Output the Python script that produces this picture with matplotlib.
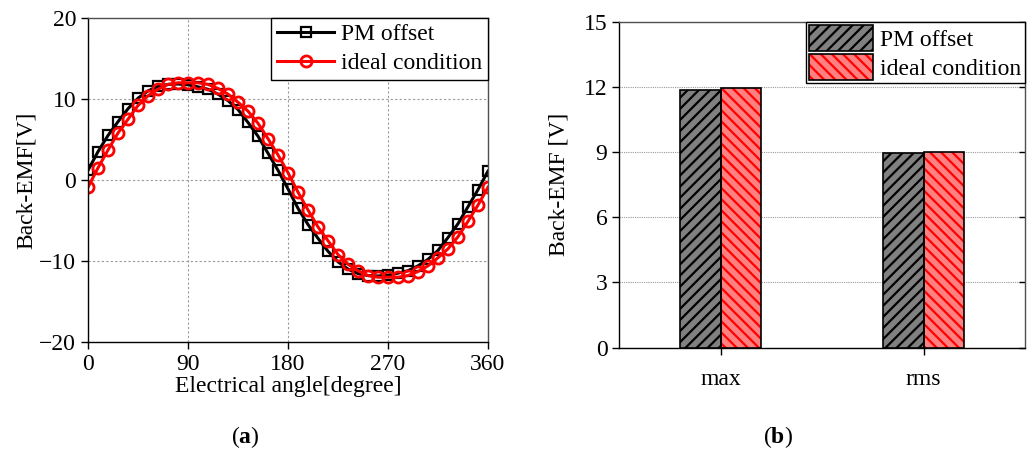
import numpy as np
import matplotlib
matplotlib.use("Agg")
import matplotlib.pyplot as plt
from matplotlib.patches import Patch

plt.rcParams["font.family"] = "Liberation Serif"
plt.rcParams["mathtext.fontset"] = "custom"
plt.rcParams["mathtext.rm"] = "Liberation Serif"
plt.rcParams["mathtext.bf"] = "Liberation Serif:bold"
plt.rcParams["hatch.linewidth"] = 1.6

# (a) back-EMF waveforms, every 9 electrical degrees
angle = list(range(0, 361, 9))
emf_pm_offset = [1.2, 3.5, 5.5, 7.2, 8.8, 10.1, 11.0, 11.55, 11.8, 11.85,
                 11.75, 11.5, 11.2, 10.6, 9.8, 8.7, 7.1, 5.4, 3.3, 1.2,
                 -1.1, -3.5, -5.5, -7.2, -8.8, -10.1, -11.0, -11.55, -11.8, -11.85,
                 -11.75, -11.5, -11.2, -10.6, -9.8, -8.7, -7.1, -5.4, -3.3, -1.2,
                 1.1]
emf_ideal = [-0.9, 1.5, 3.7, 5.8, 7.5, 9.2, 10.4, 11.2, 11.8, 12.0,
             12.0, 12.0, 11.8, 11.3, 10.6, 9.6, 8.5, 7.0, 5.1, 3.1,
             0.9, -1.5, -3.7, -5.8, -7.5, -9.2, -10.4, -11.2, -11.8, -12.0,
             -12.0, -12.0, -11.8, -11.3, -10.6, -9.6, -8.5, -7.0, -5.1, -3.1,
             -0.9]

# (b) max / rms values
stats = ["max", "rms"]
bar_pm_offset = [11.88, 8.94]
bar_ideal = [11.95, 9.01]

FS = 17
edge_gray = "#505050"


def style_axes(ax):
    for side in ["top", "right"]:
        ax.spines[side].set_color(edge_gray)
    for side in ["left", "bottom"]:
        ax.spines[side].set_color("black")
    for sp in ax.spines.values():
        sp.set_linewidth(1.0)
    ax.tick_params(labelsize=FS, direction="out", length=5, width=1)


fig = plt.figure(figsize=(10.33, 4.59), dpi=100)

# ---- panel (a)
ax1 = fig.add_axes([0.0852, 0.2549, 0.3872, 0.7059])
ax1.plot(angle, emf_pm_offset, color="black", lw=2.2, marker="s", ms=7,
         mfc="none", mec="black", mew=1.6, label="PM offset")
ax1.plot(angle, emf_ideal, color="red", lw=2.2, marker="o", ms=8,
         mfc="none", mec="red", mew=2, label="ideal condition")
ax1.set_xlim(0, 360)
ax1.set_ylim(-20, 20)
ax1.set_xticks([0, 90, 180, 270, 360])
ax1.set_yticks([-20, -10, 0, 10, 20])
ax1.set_yticklabels(["\u221220", "\u221210", "0", "10", "20"])
ax1.grid(True, ls=(0, (2, 2)), color="#999999", lw=0.8)
ax1.set_xlabel("Electrical angle[degree]", fontsize=FS, labelpad=1)
ax1.set_ylabel("Back-EMF[V]", fontsize=FS, labelpad=2)
style_axes(ax1)
leg1 = ax1.legend(loc="upper right", fontsize=FS, borderaxespad=0,
                  fancybox=False, framealpha=1, edgecolor="black",
                  handlelength=2.4, borderpad=0.25, labelspacing=0.3,
                  handletextpad=0.3)
leg1.get_frame().set_linewidth(1.0)

# ---- panel (b)
ax2 = fig.add_axes([0.5995, 0.2425, 0.3927, 0.7102])
x = np.arange(len(stats))
w = 0.2
ax2.bar(x - w / 2, bar_pm_offset, w, color="#808080", edgecolor="black",
        hatch="///", lw=0, zorder=3)
ax2.bar(x - w / 2, bar_pm_offset, w, fill=False, edgecolor="black", lw=1.2, zorder=4)
ax2.bar(x + w / 2, bar_ideal, w, color="#ff8080", edgecolor="red",
        hatch="\\\\\\", lw=0, zorder=3)
ax2.bar(x + w / 2, bar_ideal, w, fill=False, edgecolor="black", lw=1.2, zorder=4)
ax2.set_xlim(-0.5, 1.5)
ax2.set_ylim(0, 15)
ax2.set_xticks(x)
ax2.set_xticklabels(stats)
ax2.set_yticks([0, 3, 6, 9, 12, 15])
ax2.yaxis.grid(True, ls=(0, (1, 1)), color="#999999", lw=0.8)
ax2.set_axisbelow(True)
ax2.set_ylabel("Back-EMF [V]", fontsize=FS, labelpad=10)
style_axes(ax2)
ax2.tick_params(axis="x", pad=10)
ax2.tick_params(axis="y", which="both", right=True, direction="out")
for t in ax2.yaxis.get_major_ticks():
    t.tick2line.set_marker(matplotlib.lines.TICKLEFT)
    t.tick2line.set_markersize(4)

h_pm = (Patch(facecolor="#808080", edgecolor="black", hatch="///", lw=0),
        Patch(fill=False, edgecolor="black", lw=1.2))
h_id = (Patch(facecolor="#ff8080", edgecolor="red", hatch="\\\\\\", lw=0),
        Patch(fill=False, edgecolor="black", lw=1.2))
leg2 = ax2.legend([h_pm, h_id], ["PM offset", "ideal condition"], loc="upper right",
                  fontsize=FS, borderaxespad=0, fancybox=False, framealpha=1,
                  edgecolor="black", handlelength=2.7, handleheight=1.3,
                  borderpad=0.15, labelspacing=0.12, handletextpad=0.3)
leg2.get_frame().set_linewidth(1.0)

fig.text(0.237, 0.048, r"$\mathrm{(}\mathbf{a}\mathrm{)}$", fontsize=FS,
         ha="center", va="center")
fig.text(0.753, 0.048, r"$\mathrm{(}\mathbf{b}\mathrm{)}$", fontsize=FS,
         ha="center", va="center")

fig.savefig("out.png", dpi=100)
